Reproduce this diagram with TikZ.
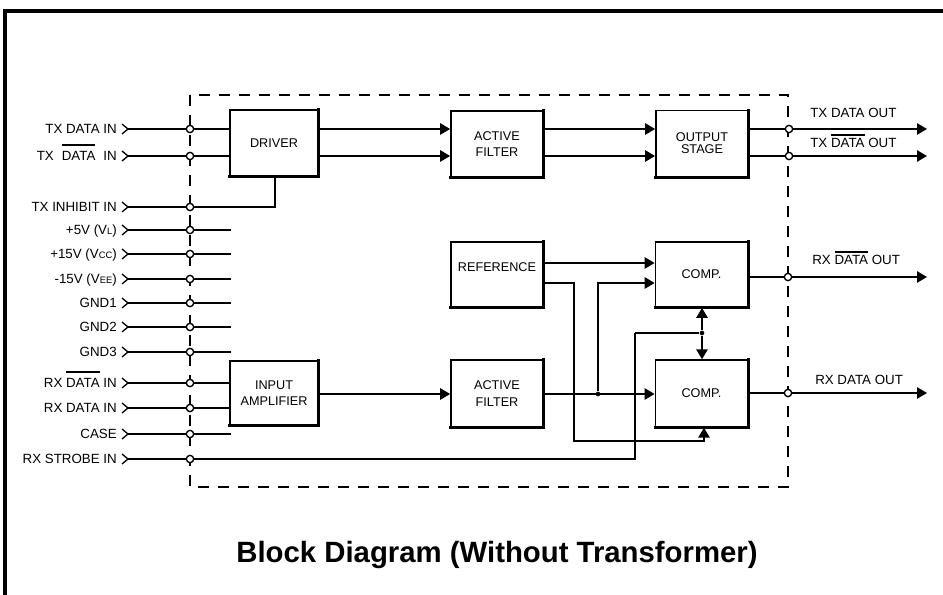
\documentclass[tikz,border=0pt]{standalone}
\usepackage{fontspec}
\setmainfont{Liberation Sans}
\usetikzlibrary{arrows.meta}
\newcommand\obar[2][9.2pt]{\setbox0\hbox{#2}\rlap{\raisebox{#1}{\rule{\wd0}{1.3pt}}}\box0\relax}
\newcommand\sm[1]{{\fontsize{7}{7}\selectfont #1}}
\tikzset{
  lbl/.style={anchor=base east, inner sep=0pt, font=\fontsize{10}{12}\selectfont},
  rlbl/.style={anchor=base west, inner sep=0pt, font=\fontsize{10}{12}\selectfont},
  blk/.style={draw, line width=1.3pt, minimum width=69pt, minimum height=49.5pt, align=center, inner sep=1pt, font=\fontsize{9.5}{12.5}\selectfont},
  ln/.style={line width=1.3pt},
  arr/.style={ln, -{Triangle[length=7.5pt,width=8.5pt]}},
  pinc/.style={circle, draw, fill=white, line width=1pt, inner sep=0pt, minimum size=5.5pt},
  chev/.style={line width=1pt},
  jdot/.style={circle, fill, inner sep=0pt, minimum size=3.5pt},
  dsh/.style={line width=1.4pt, dash pattern=on 8pt off 7pt},
}
\begin{document}
\begin{tikzpicture}[x=0.75pt,y=-0.75pt]
\useasboundingbox (0,0) rectangle (943,595);
% frame
\draw[line width=3pt] (5,595) -- (5,11.5) -- (943,11.5);
% dashed enclosure
\draw[dsh] (190,95) rectangle (788,487);

% blocks
\node[blk, minimum width=66pt] (drv) at (274,143) {DRIVER};
\node[blk] (af1) at (497,144) {ACTIVE\\FILTER};
\node[blk] (os) at (702,143.5) {OUTPUT\\[-3.5pt]STAGE};
\node[blk, minimum height=48.75pt] (ref) at (497,274.5) {REFERENCE\\[-2pt]\mbox{}};
\node[blk, minimum height=48.75pt] (c1) at (701.5,274.5) {COMP.};
\node[blk, minimum height=50pt] (c2) at (701.5,393.5) {COMP.};
\node[blk, minimum height=50pt] (af2) at (497,393.5) {ACTIVE\\FILTER};
\node[blk, minimum width=66pt, minimum height=48pt] (ia) at (274,393) {INPUT\\AMPLIFIER};
\foreach \n in {drv,af1,os,ref,c1,c2,af2,ia}
  \draw[line width=2.4pt] ([xshift=-0.6pt]\n.south west) -- (\n.south east) -- ([yshift=0.6pt]\n.north east);

% left labels
\node[lbl] (L1) at (117,129+4.8) {TX DATA IN};
\node[lbl] (L2) at (117,156+4.8) {TX\hspace{6pt}\obar[11pt]{DATA}\hspace{6pt}IN};
\node[lbl] (L3) at (117,207+4.8) {TX INHIBIT IN};
\node[lbl] (L4) at (117,230+4.8) {+5V (V\sm{L})};
\node[lbl] (L5) at (117,254+4.8) {+15V (V\sm{CC})};
\node[lbl] (L6) at (117,279+4.8) {-15V (V\sm{EE})};
\node[lbl] (L7) at (117,303+4.8) {GND1};
\node[lbl] (L8) at (117,327+4.8) {GND2};
\node[lbl] (L9) at (117,352+4.8) {GND3};
\node[lbl] (L10) at (117,383+4.8) {RX \obar[11pt]{DATA} IN};
\node[lbl] (L11) at (117,408+4.8) {RX DATA IN};
\node[lbl] (L12) at (117,434+4.8) {CASE};
\node[lbl] (L13) at (117,459+4.8) {RX STROBE IN};

% chevrons and pin coordinates
\foreach \y [count=\i] in {129,156,207,230,254,279,303,327,352,383,408,434,459} {
  \coordinate (P\i) at (128,\y);
  \draw[chev] (122,\y-5) -- (P\i) -- (122,\y+5);
}
% power / unused lines ends
\foreach \i in {4,5,6,7,8,9,12}
  \coordinate (E\i) at (231,0 |- P\i);

% input connections
\draw[ln] (P1) -- (drv.west |- P1);
\draw[ln] (P2) -- (drv.west |- P2);
\draw[ln] (P3) -- (275,207) -- (275,207 |- drv.south);
\foreach \i in {4,5,6,7,8,9,12}
  \draw[ln] (P\i) -- (E\i);
\draw[ln] (P10) -- (ia.west |- P10);
\draw[ln] (P11) -- (ia.west |- P11);
\coordinate (sx) at (635,333);
\draw[ln] (P13) -- (635,459) -- (sx);

% TX path
\draw[arr] (drv.east |- 0,129) -- (af1.west |- 0,129);
\draw[arr] (drv.east |- 0,156) -- (af1.west |- 0,156);
\draw[arr] (af1.east |- 0,129) -- (os.west |- 0,129);
\draw[arr] (af1.east |- 0,156) -- (os.west |- 0,156);
\coordinate (T1) at (927,129);
\coordinate (T2) at (927,156);
\draw[arr] (os.east |- T1) -- (T1);
\draw[arr] (os.east |- T2) -- (T2);

% RX path
\draw[arr] (ia.east |- 0,394) -- (af2.west |- 0,394);
\draw[arr] (af2.east |- 0,394) -- (c2.west |- 0,394);
\node[jdot] (j1) at (598,394) {};
\draw[arr] (j1) |- (c1.west |- 0,283);
\draw[arr] (ref.east |- 0,263) -- (c1.west |- 0,263);
\draw[arr] (ref.east |- 0,283) -- (574,283) -- (574,441) -- (704,441) -- (704,441 |- c2.south);
\node[jdot] (j2) at (702,333) {};
\draw[ln] (sx) -- (j2);
\draw[arr] (j2) -- (j2 |- c1.south);
\draw[arr] (j2) -- (j2 |- c2.north);
\coordinate (R1) at (927,277);
\coordinate (R2) at (927,393);
\draw[arr] (c1.east |- R1) -- (R1);
\draw[arr] (c2.east |- R2) -- (R2);

% right labels
\node[rlbl] (O1) at (810,117.8) {TX DATA OUT};
\node[rlbl] (O2) at (810,148) {TX \obar{DATA} OUT};
\node[rlbl] (O3) at (812,265) {RX \obar{DATA} OUT};
\node[rlbl] (O4) at (815,385) {RX DATA OUT};

% pins on the enclosure
\foreach \y [count=\i] in {129,156,207,230,254,279,303,327,352,383,408,434,459}
  \node[pinc] (C\i) at (190,\y) {};
\node[pinc] (D1) at (789,129) {};
\node[pinc] (D2) at (789,156) {};
\node[pinc] (D3) at (788,277) {};
\node[pinc] (D4) at (788,393) {};

% title
\node[font=\bfseries\fontsize{22}{26}\selectfont] (title) at (497,555) {Block Diagram (Without Transformer)};
\end{tikzpicture}
\end{document}
